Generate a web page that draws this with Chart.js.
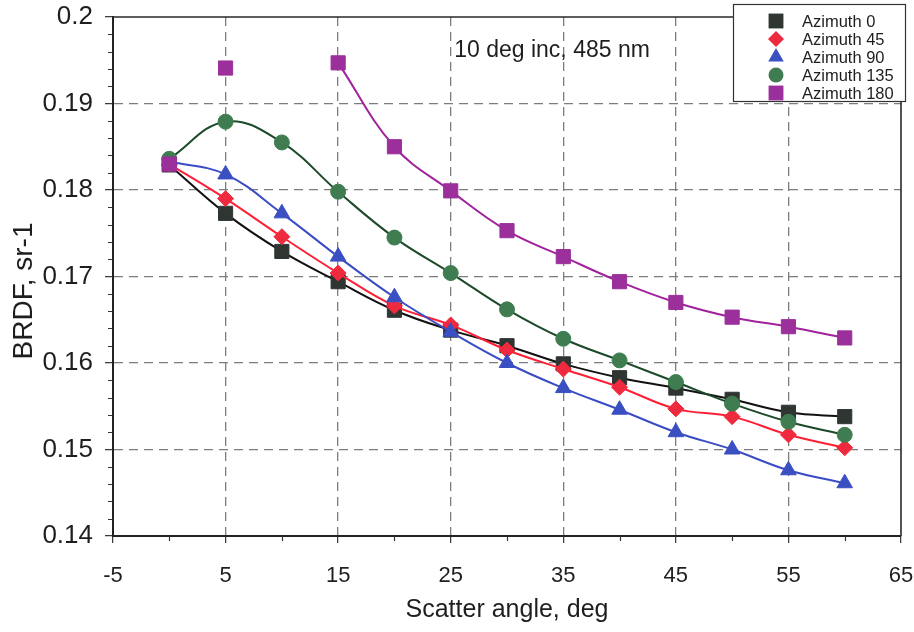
<!DOCTYPE html>
<html><head><meta charset="utf-8">
<script src="https://cdn.jsdelivr.net/npm/chart.js@4/dist/chart.umd.min.js"></script>
<style>html,body{margin:0;padding:0;background:#fff}#wrap{width:914px;height:632px}</style>
</head><body><div id="wrap"><canvas id="c" width="914" height="632"></canvas></div>
<script>
const angles = [0, 5, 10, 15, 20, 25, 30, 35, 40, 45, 50, 55, 60];
const azimuth0   = [0.1829, 0.1773, 0.1729, 0.1694, 0.1661, 0.1638, 0.1620, 0.1599, 0.1583, 0.1571, 0.1558, 0.1543, 0.1538];
const azimuth45  = [0.1830, 0.1790, 0.1746, 0.1704, 0.1666, 0.1644, 0.1615, 0.1593, 0.1572, 0.1547, 0.1538, 0.1517, 0.1502];
const azimuth90  = [0.1833, 0.1818, 0.1773, 0.1723, 0.1676, 0.1636, 0.1600, 0.1571, 0.1546, 0.1520, 0.1500, 0.1476, 0.1461];
const azimuth135 = [0.1836, 0.1879, 0.1855, 0.1798, 0.1745, 0.1704, 0.1662, 0.1628, 0.1603, 0.1578, 0.1553, 0.1532, 0.1517];
const azimuth180 = [0.1830, 0.1941, null, 0.1947, 0.1850, 0.1799, 0.1753, 0.1723, 0.1694, 0.1670, 0.1653, 0.1642, 0.1629];
const seriesLabels = ['Azimuth 0', 'Azimuth 45', 'Azimuth 90', 'Azimuth 135', 'Azimuth 180'];
const xTicks = [-5, 5, 15, 25, 35, 45, 55, 65];
const xTickLabels = ['-5', '5', '15', '25', '35', '45', '55', '65'];
const xMinorTicks = [0, 10, 20, 30, 40, 50, 60];
const yTicks = [0.14, 0.15, 0.16, 0.17, 0.18, 0.19, 0.2];
const yTickLabels = ['0.14', '0.15', '0.16', '0.17', '0.18', '0.19', '0.2'];
const yMinorTicks = [0.142,0.144,0.146,0.148,0.152,0.154,0.156,0.158,0.162,0.164,0.166,0.168,0.172,0.174,0.176,0.178,0.182,0.184,0.186,0.188,0.192,0.194,0.196,0.198];
const xTitle = 'Scatter angle, deg';
const yTitle = 'BRDF, sr-1';
const annotationText = '10 deg inc, 485 nm';

const FONT = "'Liberation Sans', Arial, Helvetica, sans-serif";
Chart.defaults.font.family = FONT;
Chart.defaults.color = '#1e1e1e';

const styles = [
  {line: '#111111', fill: '#2f3632', shape: 'rect', r: 10},
  {line: '#ff1f35', fill: '#f02a3e', shape: 'rectRot', r: 8},
  {line: '#3a4cc4', fill: '#3a4fc2', shape: 'triangle', r: 9},
  {line: '#1c4a2a', fill: '#3f7d50', shape: 'circle', r: 7.5},
  {line: '#a0229c', fill: '#9b2f9b', shape: 'rect', r: 10}
];
const seriesValues = [azimuth0, azimuth45, azimuth90, azimuth135, azimuth180];

const datasets = seriesValues.map((vals, i) => {
  const st = styles[i];
  const ds = {
    label: seriesLabels[i],
    data: angles.map((a, k) => ({x: a, y: vals[k]})),
    borderColor: st.line,
    borderWidth: 2,
    backgroundColor: st.fill,
    pointBackgroundColor: st.fill,
    pointBorderColor: st.fill,
    pointBorderWidth: 1,
    pointStyle: st.shape,
    pointRadius: st.r,
    pointHoverRadius: st.r,
    tension: 0.4,
    spanGaps: false,
    order: 4 - i
  };
  if (i === 4) {
    ds.segment = {borderColor: c => (c.p1DataIndex <= 1 ? 'rgba(0,0,0,0)' : st.line)};
  }
  return ds;
});

function drawMarker(ctx, shape, r, x, y, color) {
  ctx.save();
  ctx.fillStyle = color;
  ctx.beginPath();
  if (shape === 'rect') {
    const s = r * Math.SQRT1_2;
    ctx.rect(x - s, y - s, 2 * s, 2 * s);
  } else if (shape === 'rectRot') {
    ctx.moveTo(x, y - r); ctx.lineTo(x + r, y); ctx.lineTo(x, y + r); ctx.lineTo(x - r, y); ctx.closePath();
  } else if (shape === 'triangle') {
    ctx.moveTo(x, y - r); ctx.lineTo(x + r * 0.866, y + r * 0.5); ctx.lineTo(x - r * 0.866, y + r * 0.5); ctx.closePath();
  } else {
    ctx.arc(x, y, r, 0, Math.PI * 2);
  }
  ctx.fill();
  ctx.restore();
}

const decor = {
  id: 'decor',
  beforeDatasetsDraw(chart) {
    const {ctx, chartArea: a, scales: {x, y}} = chart;
    ctx.save();
    ctx.strokeStyle = '#333';
    ctx.lineWidth = 1.2;
    ctx.beginPath();
    yMinorTicks.forEach(v => { const py = Math.round(y.getPixelForValue(v)) + 0.5; ctx.moveTo(a.left - 5, py); ctx.lineTo(a.left, py); });
    xMinorTicks.forEach(v => { const px = Math.round(x.getPixelForValue(v)) + 0.5; ctx.moveTo(px, a.bottom); ctx.lineTo(px, a.bottom + 5); });
    ctx.stroke();
    ctx.strokeStyle = '#2a2a2a';
    ctx.lineWidth = 1.6;
    ctx.beginPath();
    ctx.moveTo(a.left, a.top); ctx.lineTo(a.right, a.top); ctx.lineTo(a.right, a.bottom);
    ctx.stroke();
    ctx.restore();
  },
  afterDraw(chart) {
    const {ctx, scales: {x, y}} = chart;
    ctx.save();
    ctx.fillStyle = '#1e1e1e';
    ctx.font = '28px ' + FONT;
    ctx.textAlign = 'center';
    ctx.textBaseline = 'middle';
    ctx.translate(24, 291);
    ctx.rotate(-Math.PI / 2);
    ctx.fillText(yTitle, 0, 0);
    ctx.restore();
    ctx.save();
    ctx.fillStyle = '#1e1e1e';
    ctx.font = '23px ' + FONT;
    ctx.textAlign = 'center';
    ctx.textBaseline = 'alphabetic';
    ctx.fillText(annotationText, x.getPixelForValue(34), y.getPixelForValue(0.19538));
    ctx.restore();
    ctx.save();
    const lx = 733, ly = 4, lw = 172, lh = 97;
    ctx.fillStyle = '#fff';
    ctx.fillRect(lx, ly, lw, lh);
    ctx.strokeStyle = '#333';
    ctx.lineWidth = 1.2;
    ctx.strokeRect(lx + 0.5, ly + 0.5, lw, lh);
    ctx.font = '16.5px ' + FONT;
    ctx.textAlign = 'left';
    ctx.textBaseline = 'middle';
    chart.data.datasets.forEach((ds, i) => {
      const cy = 21 + i * 18;
      const st = styles[i];
      const rr = st.shape === 'circle' ? 7.5 : (st.shape === 'rect' ? 10.5 : (st.shape === 'triangle' ? 9 : 8));
      drawMarker(ctx, st.shape, rr, 776, cy, st.fill);
      ctx.fillStyle = '#1e1e1e';
      ctx.fillText(ds.label, 802, cy + 1);
    });
    ctx.restore();
  }
};

new Chart(document.getElementById('c'), {
  type: 'line',
  data: {datasets},
  options: {
    responsive: false,
    devicePixelRatio: 1,
    animation: false,
    layout: {padding: {left: 0, top: 17, right: 13, bottom: 0}},
    plugins: {legend: {display: false}, tooltip: {enabled: false}},
    scales: {
      x: {
        type: 'linear', min: -5, max: 65,
        afterBuildTicks: s => { s.ticks = xTicks.map(v => ({value: v})); },
        afterFit: s => { s.height = 96; s.paddingLeft = 0; s.paddingRight = 0; },
        ticks: {callback: (v, i) => xTickLabels[i], font: {size: 22}, color: '#1e1e1e', padding: 20, maxRotation: 0, autoSkip: false},
        grid: {
          color: c => (c.tick && (c.tick.value === -5 || c.tick.value === 65) ? 'rgba(0,0,0,0)' : '#7d7d7d'),
          lineWidth: 1.3, tickLength: 7, tickColor: '#333', tickWidth: 1.2
        },
        border: {display: true, color: '#222', width: 2, dash: [9, 6]},
        title: {display: true, text: xTitle, font: {size: 25}, color: '#1e1e1e', padding: {top: 0, bottom: 7}}
      },
      y: {
        type: 'linear', min: 0.14, max: 0.2,
        afterBuildTicks: s => { s.ticks = yTicks.map(v => ({value: v})); },
        afterFit: s => { s.width = 113; s.paddingTop = 0; s.paddingBottom = 0; },
        ticks: {callback: (v, i) => yTickLabels[i], font: {size: 26}, color: '#1e1e1e', padding: 12, autoSkip: false},
        grid: {
          color: c => (c.tick && (Math.abs(c.tick.value - 0.14) < 1e-9 || Math.abs(c.tick.value - 0.2) < 1e-9) ? 'rgba(0,0,0,0)' : '#7d7d7d'),
          lineWidth: 1.3, tickLength: 8, tickColor: '#333', tickWidth: 1.2
        },
        border: {display: true, color: '#222', width: 2, dash: [9, 6]}
      }
    }
  },
  plugins: [decor]
});
</script>
</body></html>
